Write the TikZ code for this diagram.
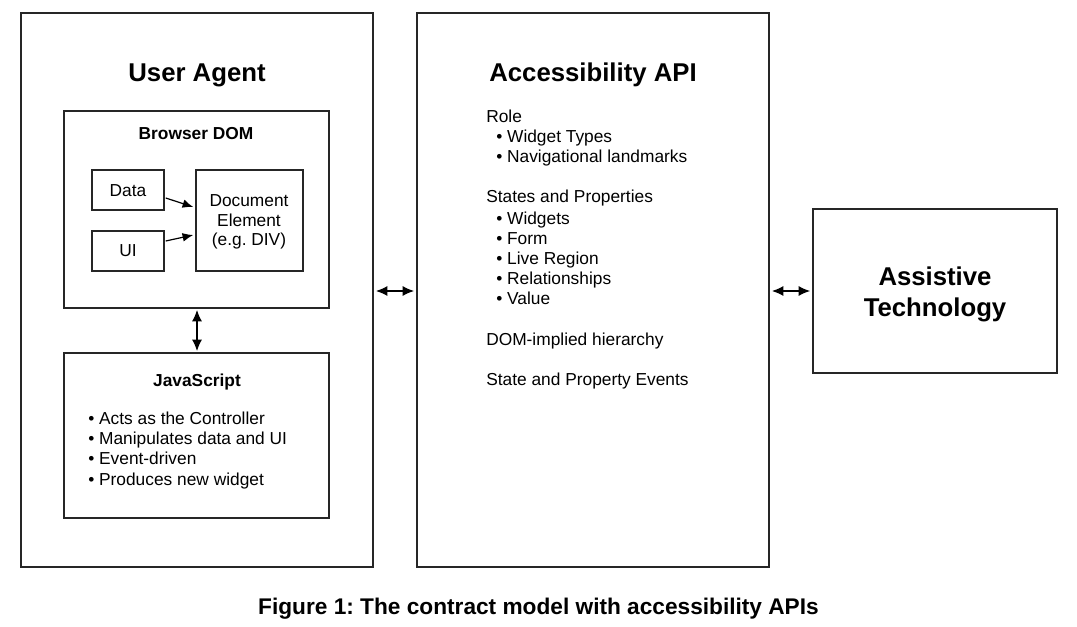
\documentclass[tikz,border=0pt]{standalone}
\usepackage{fontspec}
\setmainfont{Liberation Sans}
\usetikzlibrary{arrows.meta,calc}
\frenchspacing
\begin{document}
\begin{tikzpicture}[x=0.75pt,y=-0.75pt,
  box/.style={draw=black!85,line width=1.1pt},
  body/.style={font=\fontsize{13}{15}\selectfont,inner sep=0pt},
  bodyb/.style={font=\fontsize{13}{15}\selectfont\bfseries,inner sep=0pt},
  big/.style={font=\fontsize{19.3}{22}\selectfont\bfseries,inner sep=0pt},
  conn/.style={line width=0.9pt,-{Latex[length=8pt,width=6.5pt]}},
  dconn/.style={line width=0.9pt,{Latex[length=8.5pt,width=7.5pt]}-{Latex[length=8.5pt,width=7.5pt]}}]
\useasboundingbox (0,0) rectangle (1077,627);
% outer boxes
\draw[box] (21,13) rectangle (373,567);
\draw[box] (417,13) rectangle (769,567);
\draw[box] (813,209) rectangle (1057,373);
\coordinate (ua) at (373,291);
\coordinate (api1) at (417,291);
\coordinate (api2) at (769,291);
\coordinate (at) at (813,291);
% inner boxes
\draw[box] (64,111) rectangle (329,308);
\draw[box] (64,353) rectangle (329,518);
\coordinate (domb) at (197,308);
\coordinate (jst) at (197,353);
\node[box,minimum width=54pt,minimum height=30pt,inner sep=0pt] (data) at (128,190) {};
\node[box,minimum width=54pt,minimum height=30pt,inner sep=0pt] (ui) at (128,251) {};
\node[box,minimum width=80.25pt,minimum height=75.75pt,inner sep=0pt] (doc) at (249.5,220.5) {};
% texts
\node[big,anchor=base] (tua) at (197,82) {User Agent};
\node[big,anchor=base] (tapi) at (593,82) {Accessibility API};
\node[big,anchor=base] (tat1) at (935,285) {Assistive};
\node[big,anchor=base] (tat2) at (935,316) {Technology};
\node[bodyb,anchor=base] (tdom) at (196,140) {Browser DOM};
\node[bodyb,anchor=base] (tjs) at (197,386) {JavaScript};
\node[body,anchor=base] (tdata) at (128,197) {Data};
\node[body,anchor=base] (tui) at (128,257) {UI};
\node[body,anchor=base] (td1) at (249,207) {Document};
\node[body,anchor=base] (td2) at (249,227) {Element};
\node[body,anchor=base] (td3) at (249,246) {(e.g. DIV)};
% JS list
\node[body,anchor=base west] (j1) at (88,424) {• Acts as the Controller};
\node[body,anchor=base west] (j2) at (88,444) {• Manipulates data and UI};
\node[body,anchor=base west] (j3) at (88,464) {• Event-driven};
\node[body,anchor=base west] (j4) at (88,485) {• Produces new widget};
% API list
\node[body,anchor=base west] (a1) at (486,123) {Role};
\node[body,anchor=base west] (a2) at (496,143) {• Widget Types};
\node[body,anchor=base west] (a3) at (496,163) {• Navigational landmarks};
\node[body,anchor=base west] (a4) at (486,203) {States and Properties};
\node[body,anchor=base west] (a5) at (496,224) {• Widgets};
\node[body,anchor=base west] (a6) at (496,244) {• Form};
\node[body,anchor=base west] (a7) at (496,264) {• Live Region};
\node[body,anchor=base west] (a8) at (496,284) {• Relationships};
\node[body,anchor=base west] (a9) at (496,304) {• Value};
\node[body,anchor=base west] (a10) at (486,345) {DOM-implied hierarchy};
\node[body,anchor=base west] (a11) at (486,385) {State and Property Events};
% caption
\node[font=\fontsize{17}{20}\selectfont\bfseries,inner sep=0pt,anchor=base] (cap) at (538.5,614) {Figure 1: The contract model with accessibility APIs};
% connectors
\draw[conn] ($(data.east)+(1,8)$) -- ($(doc.west)+(-2,-13.5)$);
\draw[conn] ($(ui.east)+(1,-10)$) -- ($(doc.west)+(-2,14.5)$);
\draw[dconn] ($(domb)+(0,2)$) -- ($(jst)+(0,-2)$);
\draw[dconn] ($(ua)+(3,0)$) -- ($(api1)+(-3,0)$);
\draw[dconn] ($(api2)+(3,0)$) -- ($(at)+(-3,0)$);
\end{tikzpicture}
\end{document}
